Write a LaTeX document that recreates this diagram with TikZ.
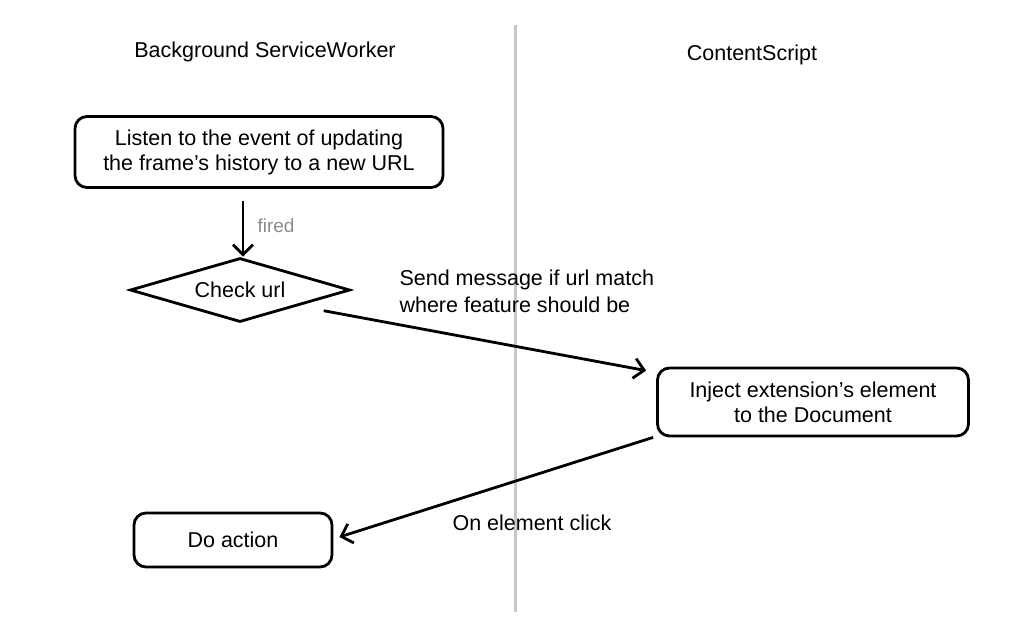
\documentclass[tikz,border=0pt]{standalone}
\usepackage{fontspec}
\setmainfont{Liberation Sans}
\usepackage{xcolor}
\usepackage{tikz}
\usetikzlibrary{shapes.geometric,arrows.meta,positioning}

\definecolor{lanegray}{RGB}{200,200,200}
\definecolor{labelgray}{RGB}{140,140,140}

\tikzset{
  stepbox/.style={draw, line width=2.8pt, rounded corners=12pt, align=center,
    font=\fontsize{21.5}{25}\selectfont},
  checkbox/.style={draw, line width=2.8pt, diamond, shape aspect=3.4, inner sep=0pt,
    minimum width=220pt, minimum height=64pt, font=\fontsize{21.5}{25}\selectfont},
  flow/.style={line width=2.8pt, -{Straight Barb[length=10pt,width=20pt,line width=2.8pt]}},
  txt/.style={font=\fontsize{21.5}{27}\selectfont},
}

\begin{document}
\begin{tikzpicture}[x=1pt,y=-1pt]
\useasboundingbox (0,0) rectangle (1034,632);
\fill[white] (0,0) rectangle (1034,632);

% Separation des deux cotes
\draw[lanegray, line width=3pt] (515,25) -- (515,612);
\node[txt] (bgtitle) at (265,52) {Background ServiceWorker};
\node[txt] (cstitle) at (752,55) {ContentScript};

% Service worker
\node[stepbox, minimum width=368pt, minimum height=71pt] (listen) at (259,152)
  {Listen to the event of updating\\the frame's history to a new URL};
\node[checkbox] (check) at (240,290) {Check url};
\draw[flow] (listen.south) ++(-16pt,-12pt) coordinate (fire) -- (fire |- check.north);
\node[txt, text=labelgray, anchor=west, font=\fontsize{19}{22}\selectfont] (firedlbl) at (254,226) {fired};

% Content script
\node[stepbox, minimum width=311pt, minimum height=68pt] (inject) at (813,402)
  {Inject extension's element\\to the Document};
\draw[flow] ([xshift=28pt,yshift=-4pt]check.south east) -- ([xshift=-10pt,yshift=-4pt]inject.north west);
\node[txt, anchor=north west, align=left] (sendlbl) at (396,266)
  {Send message if url match\\where feature should be};

% Retour vers le worker
\node[stepbox, minimum width=198pt, minimum height=54pt] (action) at (233,540) {Do action};
\draw[flow] ([xshift=-3pt]inject.south west) -- ([xshift=6pt,yshift=3pt]action.east);
\node[txt, anchor=west] (clicklbl) at (449,523) {On element click};

\end{tikzpicture}
\end{document}
